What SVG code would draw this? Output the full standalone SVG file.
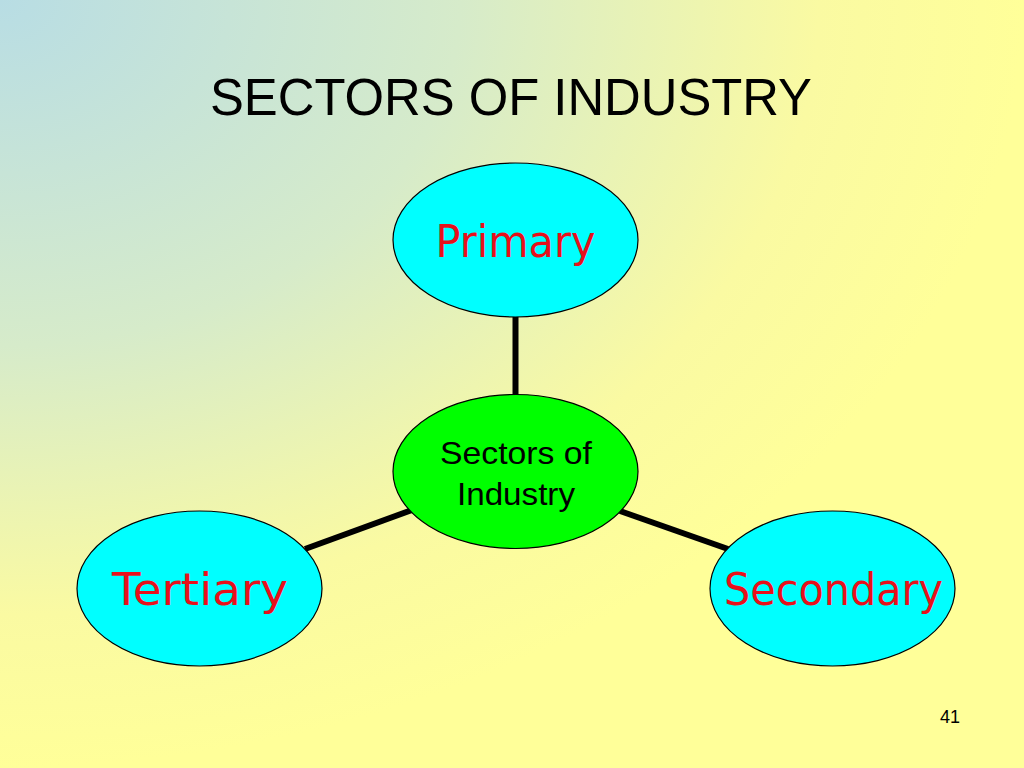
<svg xmlns="http://www.w3.org/2000/svg" width="1024" height="768" viewBox="0 0 1024 768">
  <defs>
    <radialGradient id="bg" cx="0" cy="0" r="1" fx="0" fy="0" gradientUnits="objectBoundingBox">
      <stop offset="0" stop-color="#b8dde4"/>
      <stop offset="0.45" stop-color="#d6ebca"/>
      <stop offset="0.8" stop-color="#fafaa2"/>
      <stop offset="1" stop-color="#ffff99"/>
    </radialGradient>
    <style>
      .title { font-family: "Liberation Sans", Arial, sans-serif; font-size: 51px; fill: #000; }
      .leaf { fill: #00ffff; stroke: #000; stroke-width: 1.2; }
      .hub { fill: #00ff00; stroke: #000; stroke-width: 1.2; }
      .leafText { font-family: "Comic Sans MS", "DejaVu Sans", sans-serif; font-size: 45px; fill: #e8101a; text-anchor: middle; }
      .hubText { font-family: "Liberation Sans", Arial, sans-serif; font-size: 32px; fill: #000; text-anchor: middle; }
      .conn { stroke: #000; stroke-width: 6; fill: none; }
      .num { font-family: "Liberation Sans", Arial, sans-serif; font-size: 18px; fill: #000; }
    </style>
  </defs>
  <rect x="0" y="0" width="1024" height="768" fill="url(#bg)"/>
  <text class="title" x="210" y="115" textLength="602" lengthAdjust="spacingAndGlyphs">SECTORS OF INDUSTRY</text>

  <g id="connectors">
    <line class="conn" x1="515.5" y1="316" x2="515.5" y2="397"/>
    <line class="conn" x1="305" y1="549" x2="412" y2="510"/>
    <line class="conn" x1="620" y1="511" x2="728" y2="549"/>
  </g>

  <g id="primary">
    <ellipse class="leaf" cx="515.5" cy="240" rx="122.5" ry="77"/>
    <text class="leafText" x="515.5" y="257" textLength="160" lengthAdjust="spacingAndGlyphs">Primary</text>
  </g>

  <g id="hub">
    <ellipse class="hub" cx="515.5" cy="471.5" rx="122.5" ry="77"/>
    <text class="hubText" x="516" y="464" textLength="152" lengthAdjust="spacingAndGlyphs">Sectors of</text>
    <text class="hubText" x="516" y="505" textLength="118" lengthAdjust="spacingAndGlyphs">Industry</text>
  </g>

  <g id="tertiary">
    <ellipse class="leaf" cx="199.5" cy="588.5" rx="122.5" ry="77.5"/>
    <text class="leafText" x="200" y="605" textLength="176" lengthAdjust="spacingAndGlyphs">Tertiary</text>
  </g>

  <g id="secondary">
    <ellipse class="leaf" cx="832.5" cy="588.5" rx="122.5" ry="77.5"/>
    <text class="leafText" x="833.5" y="605" textLength="219" lengthAdjust="spacingAndGlyphs">Secondary</text>
  </g>

  <text class="num" x="940" y="723">41</text>
</svg>
